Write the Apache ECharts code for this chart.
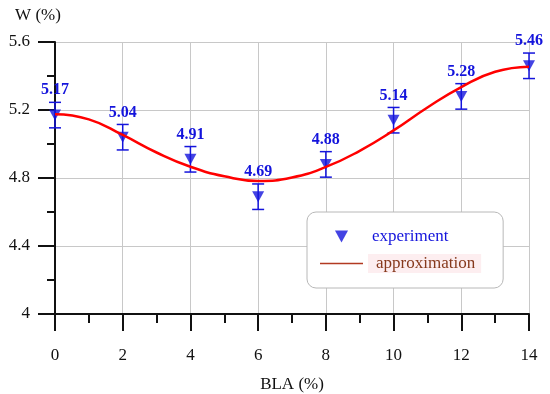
<!DOCTYPE html>
<html>
<head>
<meta charset="utf-8">
<script src="https://cdn.jsdelivr.net/npm/echarts@6/dist/echarts.min.js"></script>
<style>html,body{margin:0;padding:0;background:#fff}#c{width:550px;height:394px}</style>
</head>
<body>
<div id="c"></div>
<script>
// ---- data ----
const blaExp = [0, 2, 4, 6, 8, 10, 12, 14];
const wExp = [5.17, 5.04, 4.91, 4.69, 4.88, 5.14, 5.28, 5.46];
const wErr = [0.075, 0.075, 0.075, 0.075, 0.075, 0.075, 0.075, 0.075];
const blaApprox = [0, 1, 2, 3, 4, 5, 6, 7, 8, 9, 10, 11, 12, 13, 14];
const wApprox = [5.175, 5.145, 5.053, 4.950, 4.866, 4.810, 4.783, 4.803, 4.865, 4.960, 5.080, 5.215, 5.335, 5.425, 5.455];
const yTickLabels = { '4': '4', '4.4': '4.4', '4.8': '4.8', '5.2': '5.2', '5.6': '5.6' };

const FONT = '"Liberation Serif", serif';
const BLUE = '#1414dc';

const chart = echarts.init(document.getElementById('c'), null, { renderer: 'canvas' });

const expData = blaExp.map((x, i) => [x, wExp[i]]);
const errData = blaExp.map((x, i) => [x, wExp[i] - wErr[i], wExp[i] + wErr[i], wExp[i]]);
const approxData = blaApprox.map((x, i) => [x, wApprox[i]]);

chart.setOption({
  animation: false,
  backgroundColor: '#fff',
  textStyle: { fontFamily: FONT },
  grid: { left: 55, right: 21, top: 42, bottom: 80, containLabel: false, outerBoundsMode: 'none' },
  xAxis: {
    type: 'value', min: 0, max: 14, interval: 2,
    name: 'BLA (%)', nameLocation: 'middle', nameGap: 62,
    nameTextStyle: { fontFamily: FONT, fontSize: 17, color: '#111' },
    axisLine: { show: true, lineStyle: { color: '#111', width: 2 } },
    axisTick: { show: true, inside: false, length: 17, lineStyle: { color: '#111', width: 2 } },
    minorTick: { show: true, splitNumber: 2, length: 9, lineStyle: { color: '#111', width: 2 } },
    axisLabel: { fontFamily: FONT, fontSize: 17, color: '#111', margin: 33 },
    splitLine: { show: true, lineStyle: { color: '#c8c8c8', width: 1 } }
  },
  yAxis: {
    type: 'value', min: 4, max: 5.6, interval: 0.4,
    name: 'W (%)', nameLocation: 'end', nameGap: 18,
    nameTextStyle: { fontFamily: FONT, fontSize: 17, color: '#111', align: 'center', padding: [0, 34, 0, 0] },
    axisLine: { show: true, lineStyle: { color: '#111', width: 2 } },
    axisTick: { show: true, inside: false, length: 17, lineStyle: { color: '#111', width: 2 } },
    minorTick: { show: true, splitNumber: 2, length: 8, lineStyle: { color: '#111', width: 2 } },
    axisLabel: {
      fontFamily: FONT, fontSize: 17, color: '#111', margin: 25,
      formatter: v => yTickLabels[String(Math.round(v * 10) / 10)] || ''
    },
    splitLine: { show: true, lineStyle: { color: '#c8c8c8', width: 1 } }
  },
  legend: {
    orient: 'vertical', left: 307, top: 212,
    backgroundColor: '#fff', borderColor: '#b8b8b8', borderWidth: 1, borderRadius: 9,
    padding: [16, 22, 15, 13], itemGap: 9,
    itemWidth: 43, itemHeight: 12, symbolKeepAspect: true,
    selectedMode: false,
    textStyle: { fontFamily: FONT, fontSize: 17 },
    data: [
      { name: 'experiment', icon: 'path://M0,0L12,0L6,11Z', itemStyle: { color: BLUE },
        textStyle: { color: BLUE, padding: [1, 6, 1, 4] } },
      { name: 'approximation', icon: 'path://M0,0L43,0L43,1.6L0,1.6Z', itemStyle: { color: '#b23a22' },
        textStyle: { color: '#86391c', backgroundColor: '#fdeef0', padding: [1, 6, 1, 8] } }
    ]
  },
  series: [
    {
      name: 'errbar', type: 'custom', z: 3,
      data: errData,
      renderItem: function (params, api) {
        const x = api.value(0);
        const lo = api.coord([x, api.value(1)]);
        const hi = api.coord([x, api.value(2)]);
        const hw = 6;
        const st = { stroke: BLUE, lineWidth: 1.5 };
        return {
          type: 'group',
          children: [
            { type: 'line', shape: { x1: lo[0], y1: lo[1], x2: hi[0], y2: hi[1] }, style: st },
            { type: 'line', shape: { x1: lo[0] - hw, y1: lo[1], x2: lo[0] + hw, y2: lo[1] }, style: st },
            { type: 'line', shape: { x1: hi[0] - hw, y1: hi[1], x2: hi[0] + hw, y2: hi[1] }, style: st },
            { type: 'text', x: hi[0], y: hi[1] - 4,
              style: { text: api.value(3).toFixed(2), fill: BLUE, font: 'bold 16px "Liberation Serif", serif',
                       align: 'center', verticalAlign: 'bottom' } }
          ]
        };
      }
    },
    {
      name: 'experiment', type: 'scatter', z: 4,
      symbol: 'path://M0,0L12,0L6,11Z', symbolSize: [12, 11], symbolKeepAspect: false,
      itemStyle: { color: BLUE },
      data: expData
    },
    {
      name: 'approximation', type: 'line', z: 5,
      smooth: 0.5, showSymbol: false, symbol: 'none',
      lineStyle: { color: '#ff0000', width: 2.5 },
      itemStyle: { color: '#ff0000' },
      data: approxData
    }
  ]
});
</script>
</body>
</html>
